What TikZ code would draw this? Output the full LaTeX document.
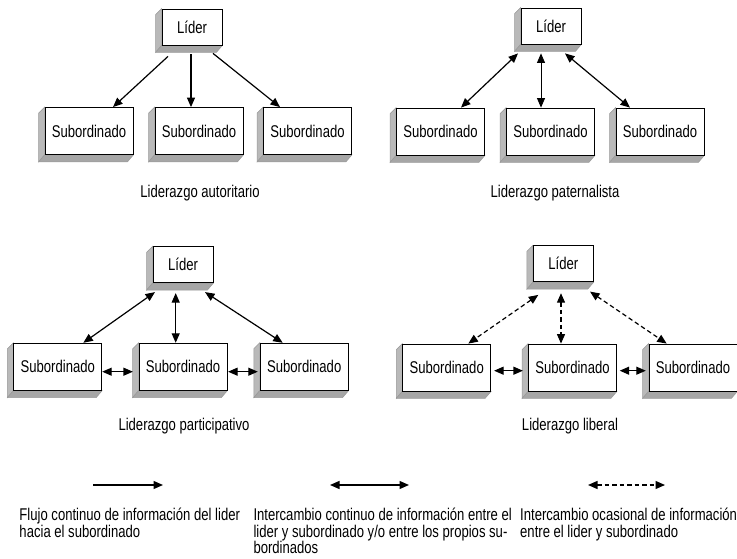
\documentclass[tikz,border=0pt]{standalone}
\usepackage{fontspec}
\setmainfont[FakeStretch=0.77]{Liberation Sans}
\usetikzlibrary{arrows.meta,calc,backgrounds}

\begin{document}
\begin{tikzpicture}[x=1pt,y=-1pt,
  every node/.style={font=\fontsize{17}{14.3}\selectfont},
  person/.style={draw=black, line width=0.8pt, fill=white, inner sep=0pt,
    minimum width=88pt, minimum height=47pt},
  lider/.style={person, minimum width=60pt, minimum height=36pt},
  link/.style={line width=1.2pt, -{Triangle[length=9.5pt,width=8pt]}},
  both/.style={line width=1.2pt, {Triangle[length=9.5pt,width=8pt]}-{Triangle[length=9.5pt,width=8pt]}},
  occasional/.style={both, dash pattern=on 4.5pt off 3pt},
  caption/.style={anchor=base},
  legend/.style={anchor=base west, inner sep=0pt}]

\useasboundingbox (0,0) rectangle (737,559);

% ---------- Liderazgo autoritario ----------
\node[lider]  (L1)  at (192,27)    {Líder};
\node[person] (S11) at (89,131)    {Subordinado};
\node[person] (S12) at (199,131)   {Subordinado};
\node[person] (S13) at (307.5,131) {Subordinado};
\draw[link] ($(L1.south)+(-24,11)$) -- ($(S11.north)+(24,0)$);
\draw[link] ($(L1.south)+(-1,9)$)   -- ($(S12.north)+(-8,0)$);
\draw[link] ($(L1.south)+(21,8)$)   -- ($(S13.north)+(-27.5,0)$);
\node[caption] (C1) at (200,198) {Liderazgo autoritario};

% ---------- Liderazgo paternalista ----------
\node[lider]  (L2)  at (551,26)      {Líder};
\node[person] (S21) at (440.5,131.5) {Subordinado};
\node[person] (S22) at (550.5,131.5) {Subordinado};
\node[person] (S23) at (660,131.5)   {Subordinado};
\draw[both] ($(L2.south)+(-33,9)$) -- ($(S21.north)+(20.5,0)$);
\draw[both, line width=0.8pt] ($(L2.south)+(-10,9)$) -- ($(S22.north)+(-9.5,0)$);
\draw[both] ($(L2.south)+(14,9)$)  -- ($(S23.north)+(-30,0)$);
\node[caption] (C2) at (555,197) {Liderazgo paternalista};

% ---------- Liderazgo participativo ----------
\node[lider]  (L3)  at (183,264.7)   {Líder};
\node[person] (S31) at (57.8,366.7)  {Subordinado};
\node[person] (S32) at (183,366.7)   {Subordinado};
\node[person] (S33) at (304.2,366.7) {Subordinado};
\draw[both] ($(L3.south)+(-28,9)$)  -- ($(S31.north)+(25.5,0)$);
\draw[both] ($(L3.south)+(-7.3,10)$) -- ($(S32.north)+(-7.3,0)$);
\draw[both] ($(L3.south)+(22,9)$)   -- ($(S33.north)+(-21.5,0)$);
\draw[both] ($(S31.east)+(0,5)$)    -- ($(S32.west)+(-5.7,5)$);
\draw[both] ($(S32.east)+(0.7,5)$)  -- ($(S33.west)+(-2,5)$);
\node[caption] (C3) at (184,430) {Liderazgo participativo};

% ---------- Liderazgo liberal ----------
\node[lider]  (L4)  at (563.3,263.8) {Líder};
\node[person] (S41) at (446.7,367.5) {Subordinado};
\node[person] (S42) at (572.5,367.5) {Subordinado};
\node[person] (S43) at (693,367.5)   {Subordinado};
\draw[occasional] ($(L4.south)+(-25,12.7)$) -- ($(S41.north)+(21.6,0)$);
\draw[occasional] ($(L4.south)+(-2.3,11)$)  -- ($(S42.north)+(-11.5,0)$);
\draw[occasional] ($(L4.south)+(26.7,9.4)$) -- ($(S43.north)+(-26.3,0)$);
\draw[both] ($(S41.east)+(3,3.2)$)   -- ($(S42.west)+(-5.2,3.2)$);
\draw[both] ($(S42.east)+(2.8,3.2)$) -- ($(S43.west)+(-2.8,3.2)$);
\node[caption] (C4) at (570,430) {Liderazgo liberal};

% ---------- extruded edges of the boxes ----------
\begin{scope}[on background layer]
  \foreach \n in {L1,S11,S12,S13,L2,S21,S22,S23,L3,S31,S32,S33,L4,S41,S42,S43} {
    \filldraw[fill=gray!55, draw=gray!80, line width=0.5pt]
      (\n.north west) -- ++(-6,6) -- ($(\n.south west)+(-6,7)$) -- (\n.south west) -- cycle;
    \filldraw[fill=gray!70, draw=gray!80, line width=0.5pt]
      (\n.south west) -- ++(-6,7) -- ($(\n.south east)+(-6,7)$) -- (\n.south east) -- cycle;
  }
\end{scope}

% ---------- legend ----------
\coordinate (K1a) at (93,485);
\coordinate (K1b) at (163,485);
\coordinate (K2a) at (330,485);
\coordinate (K2b) at (409,485);
\coordinate (K3a) at (588,485);
\coordinate (K3b) at (665,485);
\draw[link] (K1a) -- (K1b);
\draw[both] (K2a) -- (K2b);
\draw[occasional] (K3a) -- (K3b);

\node[legend] (T1) at (19.3,520.7) {\begin{tabular}[t]{@{}l@{}}
  Flujo continuo de información del lider\\
  hacia el subordinado\end{tabular}};
\node[legend] (T2) at (253.3,520.7) {\begin{tabular}[t]{@{}l@{}}
  Intercambio continuo de información entre el\\
  lider y subordinado y/o entre los propios su-\\
  bordinados\end{tabular}};
\node[legend] (T3) at (520,520.7) {\begin{tabular}[t]{@{}l@{}}
  Intercambio ocasional de información\\
  entre el lider y subordinado\end{tabular}};
\end{tikzpicture}
\end{document}
